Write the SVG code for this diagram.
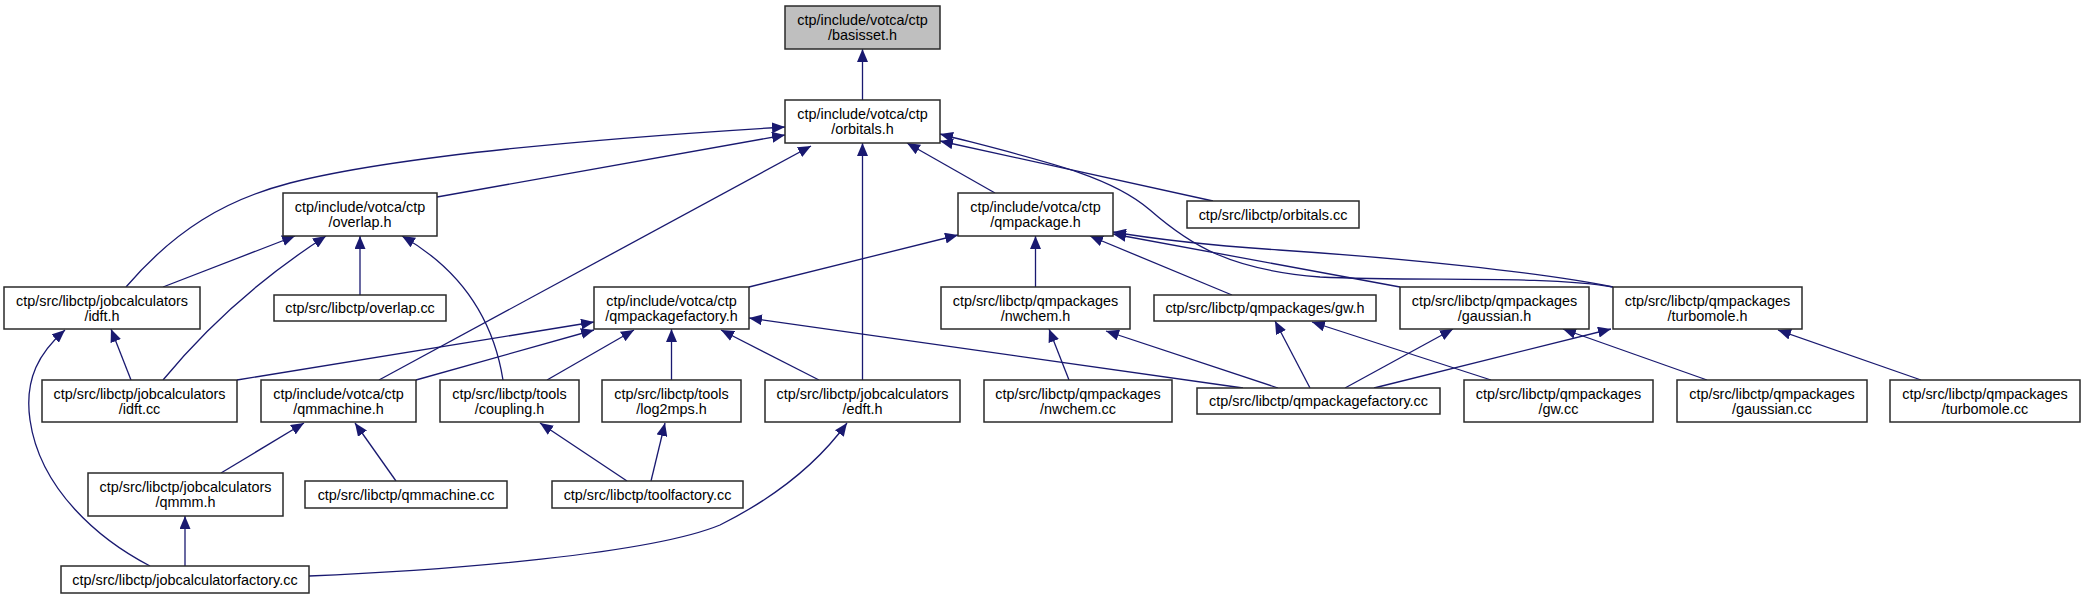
<svg xmlns="http://www.w3.org/2000/svg" width="2085" height="600" viewBox="0 0 2085 600">
<style>
.n rect{fill:#fff;stroke:#2a2a2a;stroke-width:1.5}
.n.root rect{fill:#bfbfbf}
.n text{font-family:"Liberation Sans",Arial,sans-serif;font-size:14.4px;fill:#000;text-anchor:middle}
.e path{fill:none;stroke:#191970;stroke-width:1.3;marker-end:url(#ah)}
</style>
<defs>
<marker id="ah" markerUnits="userSpaceOnUse" viewBox="0 0 13 11" markerWidth="13" markerHeight="11" refX="13" refY="5.5" orient="auto">
<path d="M0,0 L13,5.5 L0,11 z" fill="#191970"/>
</marker>
</defs>
<rect width="2085" height="600" fill="#fff"/>
<g id="connectors" class="e">
<path d="M862.5,100 L862.5,49"/>
<path d="M437,197 L785,135"/>
<path d="M126,287 C175,230 225,200 290,183 C400,155 620,137 785,127"/>
<path d="M379,380 L811,146"/>
<path d="M862.5,380 L862.5,143"/>
<path d="M995,193 L907,143"/>
<path d="M1213,201 L940,141"/>
<path d="M1613,287 C1540,275 1420,282 1320,277 C1230,270 1190,245 1150,210 C1110,175 1040,160 940,134"/>
<path d="M749,287 L958,235"/>
<path d="M1035.5,287 L1035.5,236"/>
<path d="M1232,295 L1090,236"/>
<path d="M1400,287 L1113,234"/>
<path d="M1613,287 C1540,272 1400,258 1279,250 C1220,246 1160,240 1113,232"/>
<path d="M163,287 L295,236"/>
<path d="M163,380 C200,335 250,285 326,236"/>
<path d="M360,295 L360,236"/>
<path d="M503,380 C495,330 470,275 402,236"/>
<path d="M131,380 L111,329"/>
<path d="M150,566 C100,540 40,490 30,420 C24,378 40,352 65,330"/>
<path d="M237,380 L594,322"/>
<path d="M416,380 L594,330"/>
<path d="M547,380 L634,330"/>
<path d="M671.5,380 L671.5,329"/>
<path d="M819,380 L721,330"/>
<path d="M1243,388 L749,318"/>
<path d="M221,473 L304,423"/>
<path d="M396,481 L355,423"/>
<path d="M627,481 L540,423"/>
<path d="M651,481 L665,423"/>
<path d="M185,566 L185,516"/>
<path d="M309,576 C450,570 650,554 720,525 C780,495 820,460 847,423"/>
<path d="M1069,380 L1049,329"/>
<path d="M1278,388 L1106,331"/>
<path d="M1310,388 L1275,321"/>
<path d="M1491,380 L1312,322"/>
<path d="M1345,388 L1453,329"/>
<path d="M1707,380 L1563,329"/>
<path d="M1374,388 L1611,329"/>
<path d="M1921,380 L1778,330"/>
</g>
<g id="basisset_h" class="n root"><rect x="785" y="6" width="155" height="43"/><text x="862.5" y="25">ctp/include/votca/ctp</text><text x="862.5" y="40">/basisset.h</text></g>
<g id="orbitals_h" class="n"><rect x="785" y="100" width="155" height="43"/><text x="862.5" y="119">ctp/include/votca/ctp</text><text x="862.5" y="134">/orbitals.h</text></g>
<g id="overlap_h" class="n"><rect x="283" y="193" width="154" height="43"/><text x="360" y="212">ctp/include/votca/ctp</text><text x="360" y="227">/overlap.h</text></g>
<g id="qmpackage_h" class="n"><rect x="958" y="193" width="155" height="43"/><text x="1035.5" y="212">ctp/include/votca/ctp</text><text x="1035.5" y="227">/qmpackage.h</text></g>
<g id="orbitals_cc" class="n"><rect x="1187" y="201" width="172" height="27"/><text x="1273" y="219.5">ctp/src/libctp/orbitals.cc</text></g>
<g id="idft_h" class="n"><rect x="4" y="287" width="196" height="42"/><text x="102" y="306">ctp/src/libctp/jobcalculators</text><text x="102" y="321">/idft.h</text></g>
<g id="overlap_cc" class="n"><rect x="274" y="295" width="172" height="26"/><text x="360" y="313">ctp/src/libctp/overlap.cc</text></g>
<g id="qmpackagefactory_h" class="n"><rect x="594" y="287" width="155" height="42"/><text x="671.5" y="306">ctp/include/votca/ctp</text><text x="671.5" y="321">/qmpackagefactory.h</text></g>
<g id="nwchem_h" class="n"><rect x="941" y="287" width="189" height="42"/><text x="1035.5" y="306">ctp/src/libctp/qmpackages</text><text x="1035.5" y="321">/nwchem.h</text></g>
<g id="gw_h" class="n"><rect x="1154" y="295" width="222" height="26"/><text x="1265" y="313">ctp/src/libctp/qmpackages/gw.h</text></g>
<g id="gaussian_h" class="n"><rect x="1400" y="287" width="189" height="42"/><text x="1494.5" y="306">ctp/src/libctp/qmpackages</text><text x="1494.5" y="321">/gaussian.h</text></g>
<g id="turbomole_h" class="n"><rect x="1613" y="287" width="189" height="42"/><text x="1707.5" y="306">ctp/src/libctp/qmpackages</text><text x="1707.5" y="321">/turbomole.h</text></g>
<g id="idft_cc" class="n"><rect x="42" y="380" width="195" height="42"/><text x="139.5" y="399">ctp/src/libctp/jobcalculators</text><text x="139.5" y="414">/idft.cc</text></g>
<g id="qmmachine_h" class="n"><rect x="261" y="380" width="155" height="42"/><text x="338.5" y="399">ctp/include/votca/ctp</text><text x="338.5" y="414">/qmmachine.h</text></g>
<g id="coupling_h" class="n"><rect x="440" y="380" width="139" height="42"/><text x="509.5" y="399">ctp/src/libctp/tools</text><text x="509.5" y="414">/coupling.h</text></g>
<g id="log2mps_h" class="n"><rect x="602" y="380" width="139" height="42"/><text x="671.5" y="399">ctp/src/libctp/tools</text><text x="671.5" y="414">/log2mps.h</text></g>
<g id="edft_h" class="n"><rect x="765" y="380" width="195" height="42"/><text x="862.5" y="399">ctp/src/libctp/jobcalculators</text><text x="862.5" y="414">/edft.h</text></g>
<g id="nwchem_cc" class="n"><rect x="984" y="380" width="188" height="42"/><text x="1078" y="399">ctp/src/libctp/qmpackages</text><text x="1078" y="414">/nwchem.cc</text></g>
<g id="qmpackagefactory_cc" class="n"><rect x="1197" y="388" width="243" height="26"/><text x="1318.5" y="406">ctp/src/libctp/qmpackagefactory.cc</text></g>
<g id="gw_cc" class="n"><rect x="1464" y="380" width="189" height="42"/><text x="1558.5" y="399">ctp/src/libctp/qmpackages</text><text x="1558.5" y="414">/gw.cc</text></g>
<g id="gaussian_cc" class="n"><rect x="1677" y="380" width="190" height="42"/><text x="1772" y="399">ctp/src/libctp/qmpackages</text><text x="1772" y="414">/gaussian.cc</text></g>
<g id="turbomole_cc" class="n"><rect x="1890" y="380" width="190" height="42"/><text x="1985" y="399">ctp/src/libctp/qmpackages</text><text x="1985" y="414">/turbomole.cc</text></g>
<g id="qmmm_h" class="n"><rect x="88" y="473" width="195" height="43"/><text x="185.5" y="492">ctp/src/libctp/jobcalculators</text><text x="185.5" y="507">/qmmm.h</text></g>
<g id="qmmachine_cc" class="n"><rect x="305" y="481" width="202" height="27"/><text x="406" y="499.5">ctp/src/libctp/qmmachine.cc</text></g>
<g id="toolfactory_cc" class="n"><rect x="552" y="481" width="191" height="27"/><text x="647.5" y="499.5">ctp/src/libctp/toolfactory.cc</text></g>
<g id="jobcalculatorfactory_cc" class="n"><rect x="61" y="566" width="248" height="27"/><text x="185" y="584.5">ctp/src/libctp/jobcalculatorfactory.cc</text></g>
</svg>
